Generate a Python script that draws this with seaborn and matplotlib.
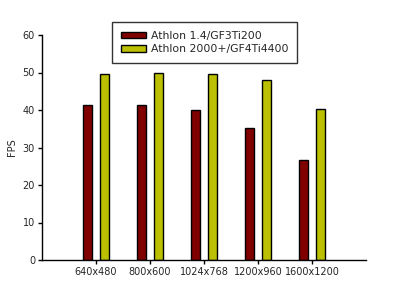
import matplotlib
matplotlib.use("Agg")
import matplotlib.pyplot as plt
import seaborn as sns
import pandas as pd

categories = ["640x480", "800x600", "1024x768", "1200x960", "1600x1200"]
series_names = ["Athlon 1.4/GF3Ti200", "Athlon 2000+/GF4Ti4400"]
athlon14 = [41.3, 41.3, 39.9, 35.1, 26.8]
athlon2000 = [49.5, 49.8, 49.5, 47.9, 40.4]
colors = ["#800000", "#BBC000"]

rows = []
for c, v in zip(categories, athlon14):
    rows.append({"res": c, "fps": v, "sys": series_names[0]})
for c, v in zip(categories, athlon2000):
    rows.append({"res": c, "fps": v, "sys": series_names[1]})
df = pd.DataFrame(rows)

sns.set_style("white")
plt.rcParams['font.family'] = ['DejaVu Sans']

fig = plt.figure(figsize=(3.96, 2.88), dpi=100)
ax = fig.add_axes([42/396, 28/288, 324/396, 225/288])

sns.barplot(data=df, x="res", y="fps", hue="sys", order=categories,
            hue_order=series_names, palette=colors, width=0.62, gap=0.43,
            edgecolor="black", linewidth=1.0, saturation=1, ax=ax, errorbar=None)

ax.set_xlim(-1, 5)
ax.set_ylim(0, 60)
ax.set_yticks([0, 10, 20, 30, 40, 50, 60])
ax.set_xlabel("")
ax.set_ylabel("FPS", fontsize=7, labelpad=4)
for s in ["top", "right"]:
    ax.spines[s].set_visible(False)
for s in ["left", "bottom"]:
    ax.spines[s].set_color("black")
    ax.spines[s].set_linewidth(1.0)
ax.tick_params(axis="both", which="both", direction="out", length=3, width=1,
               color="black", labelsize=7, pad=2, left=True, bottom=True)

leg = ax.legend(loc="upper left", bbox_to_anchor=(112/396, 1 - 22/288),
                bbox_transform=fig.transFigure, fontsize=7.8, frameon=True,
                fancybox=False, edgecolor="black", handlelength=2.3,
                handleheight=0.55, borderpad=0.8, labelspacing=0.35,
                handletextpad=0.5, borderaxespad=0)
leg.get_frame().set_linewidth(1.0)

fig.savefig("out.png", dpi=100)
